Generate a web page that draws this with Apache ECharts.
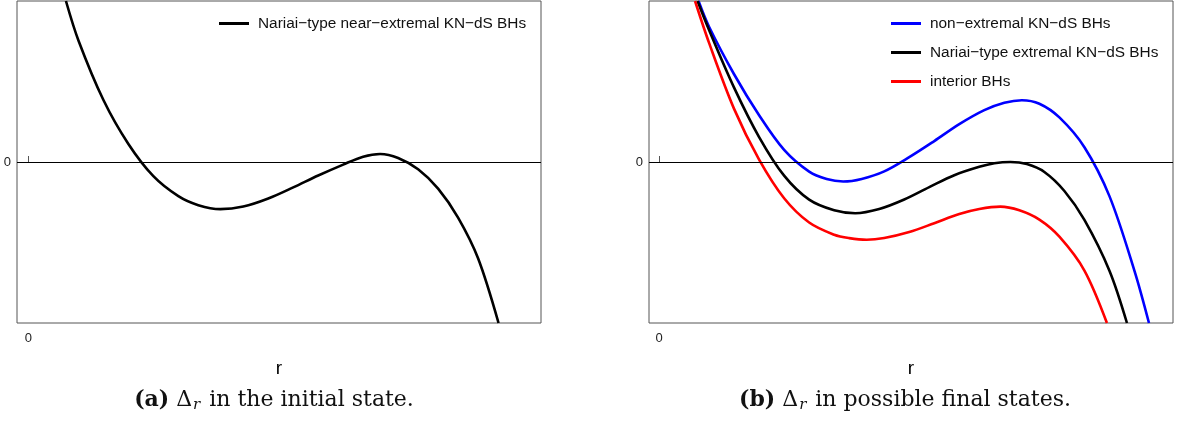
<!DOCTYPE html>
<html>
<head>
<meta charset="utf-8">
<script src="https://cdn.jsdelivr.net/npm/echarts@6/dist/echarts.min.js"></script>
<style>
  html, body { margin: 0; padding: 0; background: #fff; }
  #chart { width: 1182px; height: 421px; }
</style>
</head>
<body>
<div id="chart"></div>
<script>
// (a) initial state
const rInitial = [0.75, 1.0, 1.5, 2.0, 2.5, 3.0, 3.4, 3.84, 4.3, 4.8, 5.3, 5.8, 6.3, 6.7, 7.04, 7.4, 7.8, 8.2, 8.6, 9.0, 9.41];
const deltaInitial = [1.0, 0.755, 0.385, 0.112, -0.088, -0.212, -0.268, -0.293, -0.277, -0.227, -0.158, -0.084, -0.016, 0.033, 0.05, 0.025, -0.045, -0.165, -0.345, -0.598, -1.0];

// (b) possible final states
const rNonExtremal = [0.79, 1.0, 1.5, 2.0, 2.5, 3.0, 3.35, 3.68, 4.05, 4.5, 5.0, 5.5, 6.0, 6.5, 6.9, 7.25, 7.6, 8.0, 8.5, 9.0, 9.5, 9.79];
const deltaNonExtremal = [1.0, 0.84, 0.545, 0.29, 0.075, -0.06, -0.106, -0.121, -0.105, -0.058, 0.03, 0.13, 0.235, 0.322, 0.368, 0.384, 0.362, 0.277, 0.092, -0.212, -0.676, -1.0];

const rNariai = [0.77, 1.0, 1.5, 2.0, 2.5, 3.0, 3.5, 3.92, 4.4, 4.9, 5.4, 5.9, 6.4, 6.7, 7.02, 7.35, 7.7, 8.1, 8.5, 9.0, 9.35];
const deltaNariai = [1.0, 0.82, 0.462, 0.155, -0.085, -0.234, -0.3, -0.318, -0.292, -0.233, -0.156, -0.082, -0.03, -0.008, 0.0, -0.013, -0.062, -0.18, -0.36, -0.675, -1.0];

const rInterior = [0.72, 1.0, 1.5, 2.0, 2.5, 3.0, 3.5, 3.8, 4.15, 4.5, 5.0, 5.5, 6.0, 6.4, 6.82, 7.2, 7.6, 8.0, 8.5, 8.95];
const deltaInterior = [1.0, 0.74, 0.33, 0.015, -0.225, -0.376, -0.452, -0.473, -0.483, -0.472, -0.435, -0.38, -0.323, -0.292, -0.277, -0.3, -0.358, -0.464, -0.674, -1.0];

const nameInitial = 'Nariai−type near−extremal KN−dS BHs';
const nameNonExtremal = 'non−extremal KN−dS BHs';
const nameNariai = 'Nariai−type extremal KN−dS BHs';
const nameInterior = 'interior BHs';

const zip = (xs, ys) => xs.map((x, i) => [x, ys[i]]);

const chart = echarts.init(document.getElementById('chart'), null, { renderer: 'canvas' });

const sansFont = 'Liberation Sans, Arial, sans-serif';
const serifFont = 'DejaVu Serif, Liberation Serif, serif';

function makeX(gridIndex, min, max) {
  return {
    type: 'value',
    gridIndex,
    min,
    max,
    name: 'r',
    nameLocation: 'middle',
    nameGap: 36,
    nameTextStyle: { fontFamily: sansFont, fontSize: 19, color: '#000' },
    axisLine: { show: false },
    splitLine: { show: false },
    axisTick: { show: true, inside: true, length: 6, customValues: [0], lineStyle: { color: '#555' } },
    axisLabel: { customValues: [0], margin: 9, fontFamily: sansFont, fontSize: 13, color: '#222' }
  };
}

function makeY(gridIndex) {
  return {
    type: 'value',
    gridIndex,
    min: -1,
    max: 1,
    axisLine: { show: false },
    splitLine: { show: false },
    axisTick: { show: false },
    axisLabel: { customValues: [0], margin: 6, fontFamily: sansFont, fontSize: 13, color: '#222' }
  };
}

const zeroLine = {
  silent: true,
  symbol: 'none',
  label: { show: false },
  lineStyle: { color: '#000', width: 1, type: 'solid' },
  data: [{ yAxis: 0 }]
};

function lineSeries(name, color, data, idx, withZero) {
  return {
    name,
    type: 'line',
    xAxisIndex: idx,
    yAxisIndex: idx,
    data,
    symbol: 'none',
    smooth: 0.33,
    clip: true,
    lineStyle: { color, width: 2.6 },
    itemStyle: { color },
    markLine: withZero ? zeroLine : undefined,
    z: 3
  };
}

const legendCommon = {
  orient: 'vertical',
  icon: 'rect',
  itemWidth: 30,
  itemHeight: 3,
  itemGap: 14,
  selectedMode: false,
  textStyle: { fontFamily: sansFont, fontSize: 15.4, color: '#111', padding: [0, 0, 0, 4] }
};

function caption(x, letter, rest) {
  return {
    type: 'text',
    x,
    y: 400,
    style: {
      text: '{b|(' + letter + ')} Δ{s|r} ' + rest,
      fontFamily: serifFont,
      fontSize: 22,
      fill: '#111',
      align: 'center',
      verticalAlign: 'middle',
      rich: {
        b: { fontWeight: 'bold', fontFamily: serifFont, fontSize: 22 },
        s: { fontStyle: 'italic', fontFamily: serifFont, fontSize: 15, padding: [10, 2, 0, 1] }
      }
    }
  };
}

chart.setOption({
  backgroundColor: '#fff',
  animation: false,
  grid: [
    { left: 17, top: 1, width: 524, height: 322, show: true, borderColor: '#555', borderWidth: 1, backgroundColor: 'transparent' },
    { left: 649, top: 1, width: 524, height: 322, show: true, borderColor: '#555', borderWidth: 1, backgroundColor: 'transparent' }
  ],
  xAxis: [makeX(0, -0.23, 10.26), makeX(1, -0.2, 10.27)],
  yAxis: [makeY(0), makeY(1)],
  legend: [
    Object.assign({}, legendCommon, { left: 214, top: 11, data: [nameInitial] }),
    Object.assign({}, legendCommon, { left: 886, top: 11, data: [nameNonExtremal, nameNariai, nameInterior] })
  ],
  series: [
    lineSeries(nameInitial, '#000', zip(rInitial, deltaInitial), 0, true),
    lineSeries(nameNonExtremal, '#0000ff', zip(rNonExtremal, deltaNonExtremal), 1, true),
    lineSeries(nameNariai, '#000', zip(rNariai, deltaNariai), 1, false),
    lineSeries(nameInterior, '#ff0000', zip(rInterior, deltaInterior), 1, false)
  ],
  graphic: [
    caption(274, 'a', 'in the initial state.'),
    caption(905, 'b', 'in possible final states.')
  ]
});
</script>
</body>
</html>
